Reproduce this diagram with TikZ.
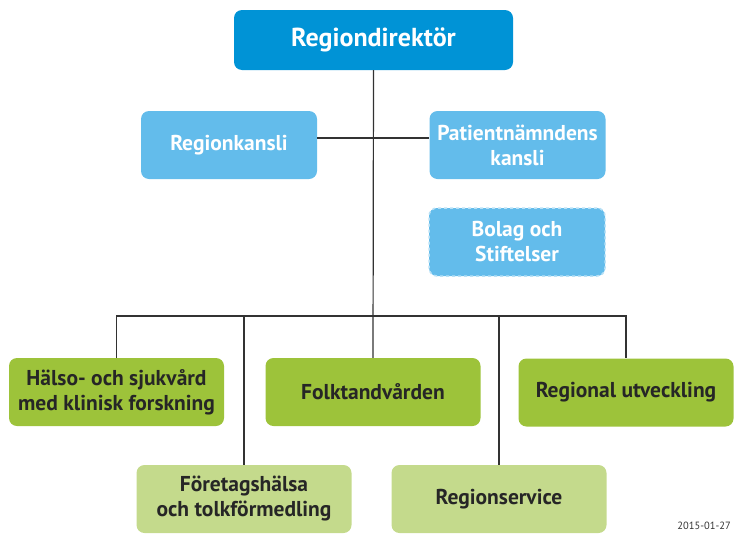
\documentclass[tikz,border=0pt]{standalone}
\usepackage{fontspec}
\setmainfont{PT Sans}
\usetikzlibrary{positioning, calc}
\definecolor{dirblue}{RGB}{0,147,214}
\definecolor{staffblue}{RGB}{99,188,235}
\definecolor{unitgreen}{RGB}{157,195,58}
\definecolor{palegreen}{RGB}{196,218,140}
\definecolor{linegray}{RGB}{50,50,50}
\begin{document}
\begin{tikzpicture}[
    x=1pt, y=-1pt,
    chief/.style={rectangle, rounded corners=8pt, fill=dirblue, text=white, minimum width=279pt, minimum height=60pt, align=center, font=\fontsize{26}{30}\selectfont\bfseries},
    staff/.style={rectangle, rounded corners=8pt, fill=staffblue, text=white, minimum width=176pt, minimum height=68pt, align=center, font=\fontsize{21.5}{25}\selectfont\bfseries},
    unit/.style={rectangle, rounded corners=8pt, fill=unitgreen, text=black!85, minimum width=215pt, minimum height=68pt, align=center, font=\fontsize{21.5}{25}\selectfont\bfseries},
    subunit/.style={unit, fill=palegreen},
    link/.style={draw=linegray, line width=1.2pt}
]
    \useasboundingbox (0,0) rectangle (735,533);
    \clip (0,0) rectangle (735,533);

    % Regional director
    \node[chief] (dir) at (373.5, 40) {Regiondirektör};

    % Staff functions
    \node[staff] (kansli) at (229, 145) {Regionkansli};
    \node[staff] (patient) at (517.5, 145) {Patientnämndens\\kansli};
    \node[staff, draw=staffblue!45!white, dashed, line width=1.5pt] (bolag) at (517, 242) {Bolag och\\Stiftelser};

    % Operations
    \node[unit] (halso) at (116.5, 392) {Hälso- och sjukvård\\med klinisk forskning};
    \node[unit] (folk) at (373, 392) {Folktandvården};
    \node[unit] (regut) at (626, 392.5) {Regional utveckling};

    % Support units
    \node[subunit] (foret) at (244, 499) {Företagshälsa\\och tolkförmedling};
    \node[subunit] (service) at (499, 499) {Regionservice};

    % Connectors
    \coordinate (stafflevel) at (374, 138);
    \coordinate (bus) at (374, 316);
    \draw[link] (dir.south) -- (folk.north);
    \draw[link] (kansli.east |- stafflevel) -- (patient.west |- stafflevel);
    \draw[link] (halso.north) |- (bus) -| (regut.north);
    \draw[link] (foret.north) -- (foret.north |- bus);
    \draw[link] (service.north) -- (service.north |- bus);

    % Date
    \node[font=\fontsize{10.5}{13}\selectfont, text=black!80, anchor=south east, inner sep=1pt] (date) at (732, 531) {2015-01-27};
\end{tikzpicture}
\end{document}
